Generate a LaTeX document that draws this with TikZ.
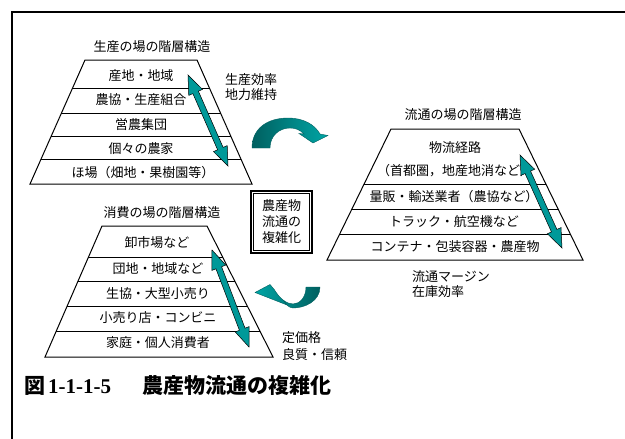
\documentclass[tikz,border=0pt]{standalone}
\usepackage{fontspec}
\setmainfont{Noto Sans CJK JP}
\newfontfamily\digfont{Liberation Serif}
\usetikzlibrary{calc}
\definecolor{tealA}{RGB}{0,153,153}
\definecolor{tealD}{RGB}{0,96,96}
\definecolor{tealL}{RGB}{0,165,165}
\newcommand{\DblArrow}[2]{%
  \path[dblarrow] (#1)
   -- ($(#1)!19pt!(#2)!7.5pt!90:(#2)$)
   -- ($(#1)!19pt!(#2)!3pt!90:(#2)$)
   -- ($(#2)!19pt!(#1)!3pt!-90:(#1)$)
   -- ($(#2)!19pt!(#1)!7.5pt!-90:(#1)$)
   -- (#2)
   -- ($(#2)!19pt!(#1)!7.5pt!90:(#1)$)
   -- ($(#2)!19pt!(#1)!3pt!90:(#1)$)
   -- ($(#1)!19pt!(#2)!3pt!-90:(#2)$)
   -- ($(#1)!19pt!(#2)!7.5pt!-90:(#2)$)
   -- cycle;}
\begin{document}
\begin{tikzpicture}[x=1pt,y=-1pt,
  pyr/.style={line width=1pt, line join=miter},
  lbl/.style={font=\fontsize{13}{15}\selectfont, inner sep=0pt},
  rowtext/.style={lbl, anchor=center},
  sidetext/.style={lbl, anchor=west, align=left},
  titletext/.style={lbl, anchor=center},
  dblarrow/.style={fill=tealA, draw=black, line width=0.5pt, line join=miter},
  curvearrow/.style={draw=tealD, line width=0.4pt, line join=miter}]

\useasboundingbox (0,0) rectangle (625,439);
\fill[white] (0,0) rectangle (625,439);
\draw[line width=2pt, line join=miter] (12,439) -- (12,12) -- (625,12);

% ---------- production pyramid ----------
\node[titletext] (t1) at (152,47) {生産の場の階層構造};
\coordinate (p1tl) at (85,60);  \coordinate (p1tr) at (197,60);
\coordinate (p1bl) at (30,184); \coordinate (p1br) at (252,184);
\draw[pyr] (p1tl) -- (p1tr) -- (p1br) -- (p1bl) -- cycle;
\foreach \t in {0.226,0.435,0.613,0.806}
  \draw[pyr] ($(p1tl)!\t!(p1bl)$) -- ($(p1tr)!\t!(p1br)$);
\node[rowtext] (r11) at (141,76)  {産地・地域};
\node[rowtext] (r12) at (141,100) {農協・生産組合};
\node[rowtext] (r13) at (141,125) {営農集団};
\node[rowtext] (r14) at (141,149) {個々の農家};
\node[rowtext] (r15) at (143,173) {ほ場（畑地・果樹園等）};
\node[sidetext] (s1) at (225,87.5) {生産効率\\地力維持};

% ---------- distribution pyramid ----------
\node[titletext] (t2) at (463,115) {流通の場の階層構造};
\coordinate (p2tl) at (391,129); \coordinate (p2tr) at (519,129);
\coordinate (p2bl) at (327,260); \coordinate (p2br) at (583,260);
\draw[pyr] (p2tl) -- (p2tr) -- (p2br) -- (p2bl) -- cycle;
\foreach \t in {0.427,0.618,0.809}
  \draw[pyr] ($(p2tl)!\t!(p2bl)$) -- ($(p2tr)!\t!(p2br)$);
\node[rowtext] (r21) at (455,148) {物流経路};
\node[rowtext] (r22) at (455,171) {（首都圏，地産地消など）};
\node[rowtext] (r23) at (454,197) {量販・輸送業者（農協など）};
\node[rowtext] (r24) at (454,222) {トラック・航空機など};
\node[rowtext] (r25) at (455,247) {コンテナ・包装容器・農産物};
\node[sidetext] (s2) at (412,284.5) {流通マージン\\在庫効率};

% ---------- consumption pyramid ----------
\node[titletext] (t3) at (162,213) {消費の場の階層構造};
\coordinate (p3tl) at (102,226); \coordinate (p3tr) at (207,226);
\coordinate (p3bl) at (45,357);  \coordinate (p3br) at (273,357);
\draw[pyr] (p3tl) -- (p3tr) -- (p3br) -- (p3bl) -- cycle;
\foreach \t in {0.237,0.427,0.618,0.809}
  \draw[pyr] ($(p3tl)!\t!(p3bl)$) -- ($(p3tr)!\t!(p3br)$);
\node[rowtext] (r31) at (157,243) {卸市場など};
\node[rowtext] (r32) at (158,269) {団地・地域など};
\node[rowtext] (r33) at (158,294) {生協・大型小売り};
\node[rowtext] (r34) at (158,318) {小売り店・コンビニ};
\node[rowtext] (r35) at (158,343) {家庭・個人消費者};
\node[sidetext] (s3) at (282,346.5) {定価格\\[2pt]良質・信頼};

% ---------- central box ----------
\node[draw, line width=1.5pt, minimum width=61pt, minimum height=62pt,
      inner sep=0pt] (box) at (281.5,222) {};
\draw[line width=0.8pt] ($(box.north west)+(3.5,3.5)$) rectangle ($(box.south east)+(-3.5,-3.5)$);
\node[lbl, align=left, font=\fontsize{13}{16}\selectfont] (boxtext) at (box.center) {農産物\\流通の\\複雑化};

% ---------- double-headed arrows ----------
\coordinate (d1a) at (188,75);  \coordinate (d1b) at (228,166);
\coordinate (d2a) at (520,155); \coordinate (d2b) at (562,248);
\coordinate (d3a) at (212,250); \coordinate (d3b) at (249,347);
\DblArrow{d1a}{d1b}
\DblArrow{d2a}{d2b}
\DblArrow{d3a}{d3b}

% ---------- curved arrows ----------
\path[curvearrow, left color=tealD, right color=tealL]
  (252,148) .. controls (252,128) and (268,118) .. (288,118)
  .. controls (304,118) and (315,125) .. (320,134)
  -- (328,135.5) -- (313,143) -- (299,133.5) -- (304,134)
  .. controls (300,130) and (296,128) .. (290,128)
  .. controls (279,128) and (270,136) .. (270,148) -- cycle;

\path[curvearrow, left color=tealL, right color=tealD]
  (320,287) .. controls (320,301) and (305,308) .. (293,308)
  .. controls (289,308) and (285.5,304) .. (283.5,300.5)
  -- (287,305) -- (255,292.5) -- (270,284.5) -- (274.3,289.6)
  .. controls (280,299) and (287,304) .. (293,304)
  .. controls (300,304) and (306,297) .. (306,287) -- cycle;

% ---------- caption ----------
\node[anchor=west, inner sep=0pt, font=\fontsize{21}{24}\selectfont\bfseries] (cap) at (24,385)
  {図\hspace{3pt}{\digfont\bfseries 1-1-1-5}\hspace{10pt}　農産物流通の複雑化};
\end{tikzpicture}
\end{document}
